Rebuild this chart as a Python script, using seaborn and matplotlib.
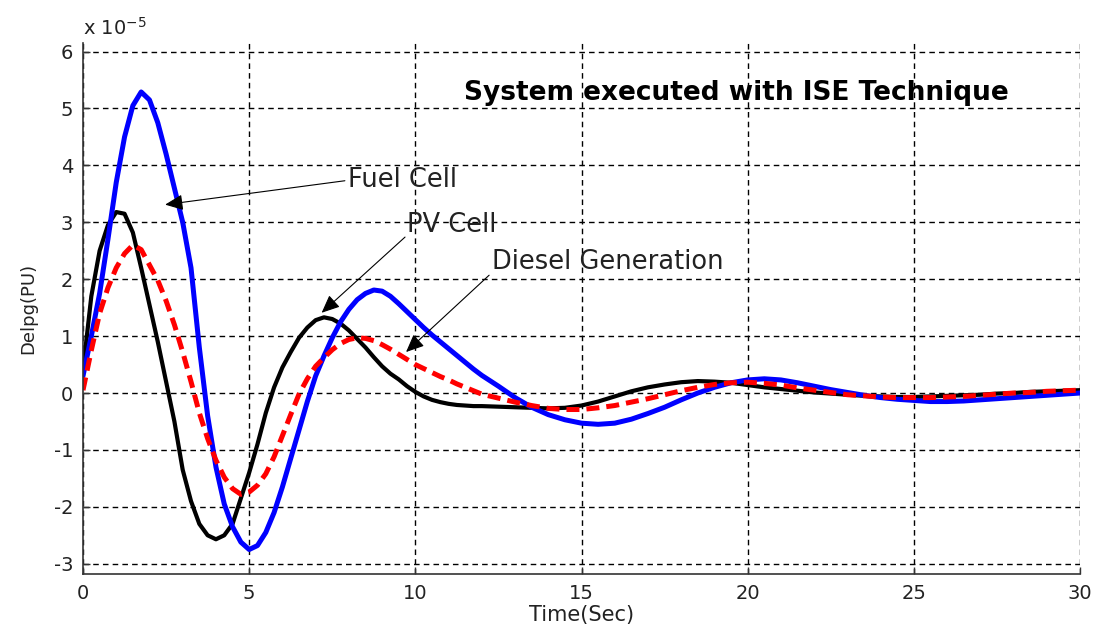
import matplotlib
matplotlib.use("Agg")
import matplotlib.pyplot as plt
import seaborn as sns

# ---- data (values in units of 1e-5) ----
time = [0, 0.25, 0.5, 0.75, 1.0, 1.25, 1.5, 1.75, 2.0, 2.25, 2.5, 2.75, 3.0,
        3.25, 3.5, 3.75, 4.0, 4.25, 4.5, 4.75, 5.0, 5.25, 5.5, 5.75, 6.0,
        6.25, 6.5, 6.75, 7.0, 7.25, 7.5, 7.75, 8.0, 8.25, 8.5, 8.75, 9.0,
        9.25, 9.5, 9.75, 10.0, 10.25, 10.5, 10.75, 11.0, 11.25, 11.5, 11.75, 12.0,
        12.5, 13.0, 13.5, 14.0, 14.5, 15.0, 15.5, 16.0, 16.5, 17.0, 17.5, 18.0,
        18.5, 19.0, 19.5, 20.0, 20.5, 21.0, 21.5, 22.0, 22.5, 23.0, 23.5, 24.0,
        24.5, 25.0, 25.5, 26.0, 26.5, 27.0, 27.5, 28.0, 28.5, 29.0, 29.5, 30.0]

fuel_cell = [0.3, 1.0, 1.75, 2.7, 3.7, 4.5, 5.05, 5.29, 5.15, 4.75, 4.2, 3.6, 3.0,
             2.2, 0.8, -0.4, -1.3, -1.95, -2.35, -2.62, -2.75, -2.68, -2.45, -2.1, -1.65,
             -1.15, -0.65, -0.15, 0.3, 0.65, 0.97, 1.25, 1.47, 1.64, 1.75, 1.81, 1.79,
             1.7, 1.57, 1.43, 1.29, 1.15, 1.02, 0.9, 0.78, 0.66, 0.54, 0.42, 0.31,
             0.12, -0.08, -0.25, -0.38, -0.47, -0.53, -0.55, -0.53, -0.46, -0.36, -0.25, -0.12,
             0.0, 0.1, 0.18, 0.23, 0.25, 0.23, 0.18, 0.12, 0.06, 0.01, -0.04, -0.08,
             -0.11, -0.13, -0.15, -0.15, -0.14, -0.12, -0.1, -0.08, -0.06, -0.04, -0.02, 0.0]

pv_cell = [0.4, 1.7, 2.5, 2.95, 3.18, 3.15, 2.82, 2.2, 1.55, 0.9, 0.2, -0.5, -1.35,
           -1.9, -2.3, -2.5, -2.57, -2.5, -2.3, -1.85, -1.4, -0.9, -0.35, 0.1, 0.45,
           0.72, 0.97, 1.15, 1.28, 1.33, 1.3, 1.22, 1.1, 0.95, 0.8, 0.63, 0.47,
           0.34, 0.24, 0.12, 0.02, -0.06, -0.12, -0.16, -0.19, -0.21, -0.22, -0.23, -0.23,
           -0.24, -0.25, -0.26, -0.27, -0.26, -0.22, -0.15, -0.06, 0.03, 0.1, 0.15, 0.19,
           0.21, 0.2, 0.18, 0.14, 0.1, 0.07, 0.04, 0.01, -0.01, -0.03, -0.05, -0.06,
           -0.07, -0.07, -0.06, -0.05, -0.04, -0.03, -0.01, 0.0, 0.02, 0.03, 0.04, 0.05]

diesel = [0.05, 0.75, 1.4, 1.85, 2.2, 2.45, 2.6, 2.52, 2.25, 1.98, 1.62, 1.2, 0.72,
          0.2, -0.35, -0.8, -1.18, -1.48, -1.68, -1.78, -1.74, -1.62, -1.42, -1.12, -0.75,
          -0.38, -0.02, 0.25, 0.47, 0.62, 0.76, 0.87, 0.94, 0.97, 0.96, 0.92, 0.85,
          0.77, 0.68, 0.59, 0.5, 0.43, 0.36, 0.29, 0.23, 0.16, 0.1, 0.04, -0.02,
          -0.09, -0.16, -0.22, -0.27, -0.29, -0.29, -0.26, -0.22, -0.16, -0.1, -0.03, 0.04,
          0.1, 0.15, 0.18, 0.19, 0.17, 0.14, 0.09, 0.05, 0.01, -0.03, -0.05, -0.07,
          -0.08, -0.08, -0.08, -0.07, -0.06, -0.04, -0.02, 0.0, 0.01, 0.03, 0.04, 0.05]

x_ticks = [0, 5, 10, 15, 20, 25, 30]
y_ticks = [-3, -2, -1, 0, 1, 2, 3, 4, 5, 6]

title_text = "System executed with ISE Technique"
labels = ["Fuel Cell", "PV Cell", "Diesel Generation"]

# ---- style ----
sns.set_theme(style="white")
plt.rcParams['font.family'] = ['DejaVu Sans']

fig = plt.figure(figsize=(10.98, 6.28), dpi=100)
ax = fig.add_axes([0.0756, 0.086, 0.908, 0.8455])

sns.lineplot(x=time, y=pv_cell, ax=ax, color="black", linewidth=3.0)
sns.lineplot(x=time, y=fuel_cell, ax=ax, color="#0000ff", linewidth=3.6)
sns.lineplot(x=time, y=diesel, ax=ax, color="#ff0000", linewidth=3.6)
ax.lines[-1].set_dashes((2.6, 1.4))
for ln in ax.lines:
    ln.set_solid_joinstyle("round")

ax.set_xlim(0, 30)
ax.set_ylim(-3.18, 6.15)
ax.set_xticks(x_ticks)
ax.set_yticks(y_ticks)
ax.set_xticklabels([str(v) for v in x_ticks])
ax.set_yticklabels([str(v) for v in y_ticks])

ax.grid(True, color="black", linestyle=(0, (4, 3)), linewidth=1.0)
ax.set_axisbelow(True)
for s in ["top", "right"]:
    ax.spines[s].set_visible(False)
for s in ["left", "bottom"]:
    ax.spines[s].set_color("#333333")
    ax.spines[s].set_linewidth(1.2)
ax.tick_params(direction="in", length=5, width=1.0, color="#333333",
               labelsize=14, labelcolor="#222222", pad=7,
               left=True, bottom=True)

ax.set_xlabel("Time(Sec)", fontsize=15, color="#222222", labelpad=2)
ax.set_ylabel("Delpg(PU)", fontsize=13, color="#222222", labelpad=12)

ax.text(0.0, 1.008, r"x 10$^{\mathregular{-5}}$", transform=ax.transAxes,
        fontsize=14, color="#222222", ha="left", va="bottom")

ax.text(19.65, 5.27, title_text, fontsize=19, fontweight="bold",
        color="black", ha="center", va="center")

# annotations
ax.text(7.97, 3.74, labels[0], fontsize=18.5, color="#222222", ha="left", va="center")
ax.text(9.75, 2.95, labels[1], fontsize=18.5, color="#222222", ha="left", va="center")
ax.text(12.31, 2.30, labels[2], fontsize=18.5, color="#222222", ha="left", va="center")

arrow_kw = dict(arrowstyle="-|>,head_length=0.5,head_width=0.22", color="black",
                lw=0.8, mutation_scale=22, shrinkA=0, shrinkB=0)
ax.annotate("", xy=(2.47, 3.31), xytext=(7.88, 3.73), arrowprops=arrow_kw)
ax.annotate("", xy=(7.18, 1.41), xytext=(9.69, 2.74), arrowprops=arrow_kw)
ax.annotate("", xy=(9.72, 0.72), xytext=(12.22, 2.07), arrowprops=arrow_kw)

fig.savefig("out.png", dpi=100)
